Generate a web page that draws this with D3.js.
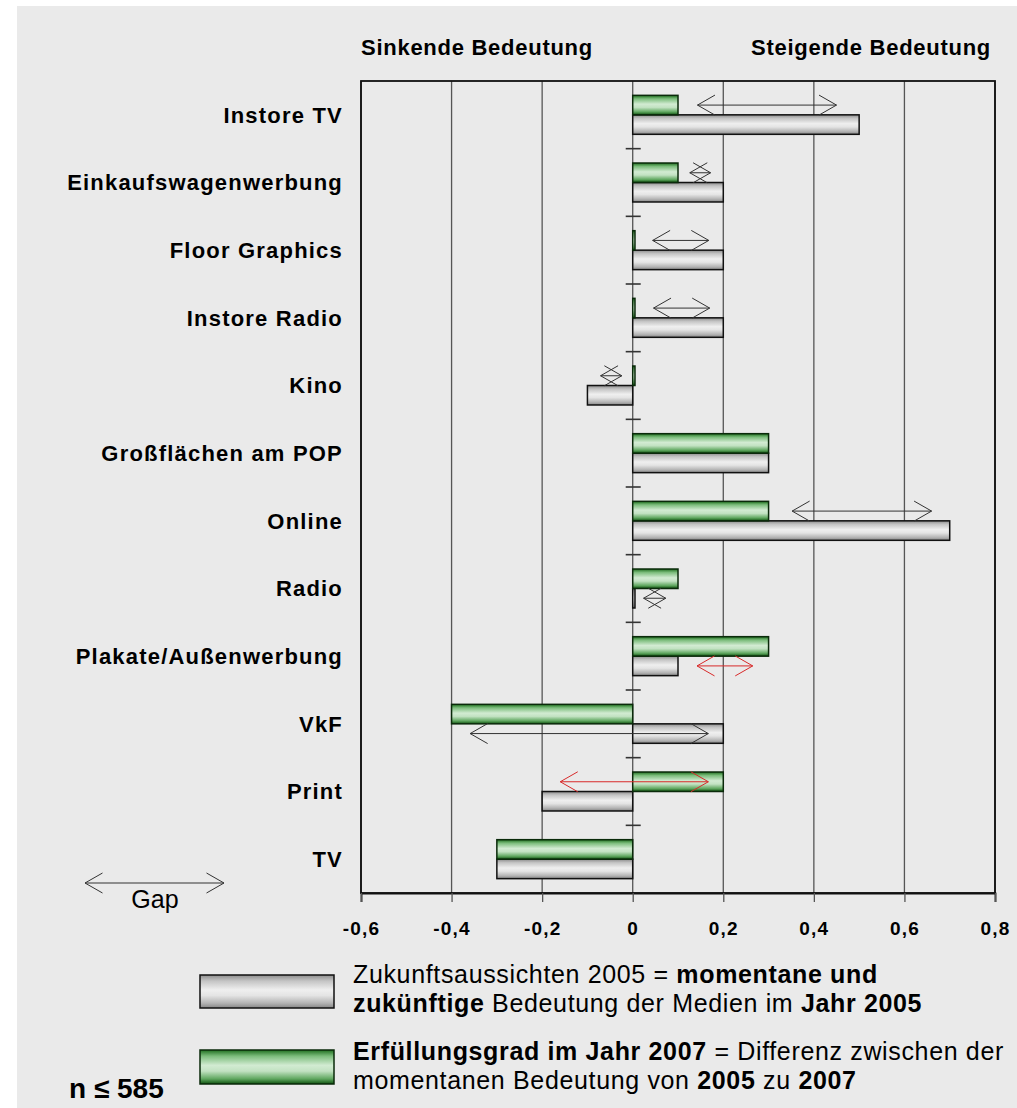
<!DOCTYPE html>
<html><head><meta charset="utf-8">
<script src="https://cdn.jsdelivr.net/npm/d3@7"></script>
<style>
html,body{margin:0;padding:0;background:#fff;}
svg{display:block;font-family:"Liberation Sans",Arial,sans-serif;}
</style></head>
<body>
<svg id="chart" width="1017" height="1108"></svg>
<script>
// ---- data ----
const categories = ["Instore TV","Einkaufswagenwerbung","Floor Graphics","Instore Radio","Kino","Großflächen am POP","Online","Radio","Plakate/Außenwerbung","VkF","Print","TV"];
const erfuellung2007 = [0.1,0.1,0.005,0.005,0.005,0.3,0.3,0.1,0.3,-0.4,0.2,-0.3];
const zukunft2005 = [0.5,0.2,0.2,0.2,-0.1,0.3,0.7,0.005,0.1,0.2,-0.2,-0.3];
const tickValues = [-0.6,-0.4,-0.2,0,0.2,0.4,0.6,0.8];
const tickLabels = ["-0,6","-0,4","-0,2","0","0,2","0,4","0,6","0,8"];
// gap arrows (annotation): category, start value, end value, bar row it sits on, kind
const arrowCats = ["Instore TV","Einkaufswagenwerbung","Floor Graphics","Instore Radio","Kino","Online","Radio","Plakate/Außenwerbung","VkF","Print"];
const arrowFrom = [0.143,0.126,0.044,0.046,-0.071,0.352,0.024,0.142,-0.359,-0.160];
const arrowTo   = [0.450,0.172,0.168,0.170,-0.024,0.660,0.073,0.265,0.167,0.167];
const arrowRow  = ["g","g","g","g","g","g","b","b","b","g"];
const arrowKind = ["gap","gap","gap","gap","gap","gap","gap","deficit","gap","deficit"];

(function(){
const svg = d3.select("#chart");
svg.append("rect").attr("x",17).attr("y",6).attr("width",1000).attr("height",1102).attr("fill","#eaeaea");

const defs = svg.append("defs");
function grad(id, stops){
  const g = defs.append("linearGradient").attr("id",id).attr("x1",0).attr("y1",0).attr("x2",0).attr("y2",1);
  stops.forEach(s=>g.append("stop").attr("offset",s[0]).attr("stop-color",s[1]));
}
grad("gGray",[[0,"#8c8c8c"],[0.18,"#c4c4c4"],[0.45,"#efefef"],[0.62,"#e4e4e4"],[0.85,"#b4b4b4"],[1,"#858585"]]);
grad("gGreen",[[0,"#1e6e1e"],[0.18,"#7cbd7c"],[0.45,"#d2ebd2"],[0.62,"#c2e2c2"],[0.85,"#5fa75f"],[1,"#0f500f"]]);

const pL=361, pR=995, pT=81, pB=893;
const x = d3.scaleLinear().domain([-0.6,0.8]).range([pL,pR]);
const y = d3.scaleBand().domain(categories).range([pT,pB]).paddingInner(0.424).paddingOuter(0.212);
const sub = d3.scaleBand().domain(["g","b"]).range([0,y.bandwidth()]);

const rows = categories.map((c,i)=>({c, g:erfuellung2007[i], b:zukunft2005[i]}));

// gridlines
svg.append("g").selectAll("line").data(tickValues).join("line")
  .attr("x1",d=>x(d)).attr("x2",d=>x(d)).attr("y1",pT).attr("y2",pB)
  .attr("stroke","#555").attr("stroke-width",1.3);

// frame
svg.append("rect").attr("x",pL).attr("y",pT).attr("width",pR-pL).attr("height",pB-pT)
  .attr("fill","none").attr("stroke","#111").attr("stroke-width",1.8);

// category tick marks on zero axis
svg.append("g").selectAll("line").data(d3.range(1,categories.length)).join("line")
  .attr("x1",x(0)-7).attr("x2",x(0)+8)
  .attr("y1",i=>pT+i*y.step()).attr("y2",i=>pT+i*y.step())
  .attr("stroke","#333").attr("stroke-width",1.6);

// bars
const barG = svg.append("g");
["b","g"].forEach(key=>{
  barG.selectAll("rect."+key).data(rows).join("rect").attr("class",key)
    .attr("x",d=>x(Math.min(0,d[key])))
    .attr("width",d=>Math.abs(x(d[key])-x(0)))
    .attr("y",d=>y(d.c)+sub(key))
    .attr("height",sub.bandwidth())
    .attr("fill",key==="g"?"url(#gGreen)":"url(#gGray)")
    .attr("stroke",key==="g"?"#0a2a0a":"#111").attr("stroke-width",1.5);
});

// arrows
function drawArrow(g, x1, x2, yy, color){
  const ah=17.5, av=10;
  g.append("line").attr("x1",x1).attr("x2",x2).attr("y1",yy).attr("y2",yy);
  g.append("polyline").attr("points",`${x1+ah},${yy-av} ${x1},${yy} ${x1+ah},${yy+av}`);
  g.append("polyline").attr("points",`${x2-ah},${yy-av} ${x2},${yy} ${x2-ah},${yy+av}`);
  g.attr("stroke",color).attr("stroke-width",1).attr("fill","none");
}
arrowCats.forEach((c,i)=>{
  const yy = y(c)+sub(arrowRow[i])+sub.bandwidth()/2;
  drawArrow(svg.append("g"), x(arrowFrom[i]), x(arrowTo[i]), yy, arrowKind[i]==="deficit"?"#d82a2a":"#333");
});

// bottom axis
const axis = d3.axisBottom(x).tickValues(tickValues).tickFormat((d,i)=>tickLabels[i]).tickSize(9).tickPadding(20);
const ax = svg.append("g").attr("transform",`translate(0,${pB})`).call(axis);
ax.select(".domain").attr("stroke","#111").attr("stroke-width",1.8);
ax.selectAll(".tick line").attr("stroke","#555").attr("stroke-width",1.3);
ax.selectAll(".tick text").attr("font-family","Liberation Sans, Arial, sans-serif")
  .attr("font-size",19).attr("font-weight","bold").attr("fill","#000").attr("letter-spacing","1.2px");

// category labels
svg.append("g").selectAll("text").data(categories).join("text")
  .attr("x",343).attr("y",d=>y(d)+y.bandwidth()/2).attr("dy","0.36em")
  .attr("text-anchor","end").attr("font-size",22).attr("font-weight","bold").attr("fill","#000")
  .attr("letter-spacing","1.2px").text(d=>d);

// headings
svg.append("text").attr("x",361).attr("y",55).attr("font-size",22).attr("font-weight","bold")
  .attr("letter-spacing","0.73px").attr("fill","#000").text("Sinkende Bedeutung");
svg.append("text").attr("x",751).attr("y",55).attr("font-size",22).attr("font-weight","bold")
  .attr("letter-spacing","0.73px").attr("fill","#000").text("Steigende Bedeutung");

// Gap legend
drawArrow(svg.append("g"), 85, 224, 883, "#333");
svg.append("text").attr("x",155).attr("y",908).attr("text-anchor","middle").attr("font-size",25)
  .attr("fill","#000").text("Gap");

// n
svg.append("text").attr("x",69).attr("y",1098).attr("font-size",28).attr("font-weight","bold")
  .attr("fill","#000").text("n ≤ 585");

// series legend
svg.append("rect").attr("x",200).attr("y",975).attr("width",134).attr("height",33)
  .attr("fill","url(#gGray)").attr("stroke","#111").attr("stroke-width",1.5);
svg.append("rect").attr("x",200).attr("y",1050).attr("width",134).attr("height",34)
  .attr("fill","url(#gGreen)").attr("stroke","#0a2a0a").attr("stroke-width",1.5);

const legendLines = [
  [983, [["Zukunftsaussichten 2005 = ",false],["momentane und",true]]],
  [1012,[["zukünftige",true],[" Bedeutung der Medien im ",false],["Jahr 2005",true]]],
  [1060,[["Erfüllungsgrad im Jahr 2007",true],[" = Differenz zwischen der",false]]],
  [1089,[["momentanen Bedeutung von ",false],["2005",true],[" zu ",false],["2007",true]]]
];
legendLines.forEach(([yy,parts])=>{
  const t = svg.append("text").attr("x",353).attr("y",yy).attr("font-size",25)
    .attr("letter-spacing","0.65px").attr("fill","#000").style("white-space","pre");
  parts.forEach(([s,b])=>t.append("tspan").attr("font-weight",b?"bold":"normal").text(s));
});
})();
</script>
</body></html>
